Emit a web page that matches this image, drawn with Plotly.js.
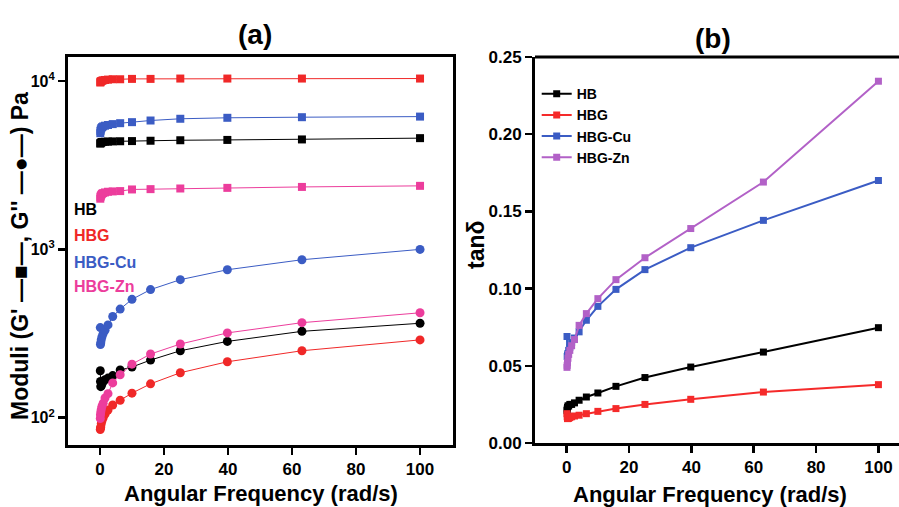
<!DOCTYPE html>
<html><head><meta charset="utf-8">
<script src="https://cdn.plot.ly/plotly-3.0.1.min.js"></script>
<style>html,body{margin:0;padding:0;background:#fff}#chart{width:899px;height:507px}</style>
</head><body><div id="chart"></div>
<script>
// Angular frequency (rad/s)
const freq = [0.1,0.158,0.251,0.398,0.631,1,1.58,2.51,3.98,6.31,10,15.8,25.1,39.8,63.1,100];
const sampleNames = ['HB','HBG','HBG-Cu','HBG-Zn'];

// Storage modulus G' (Pa)
const gStorage_HB    = [4250,4280,4300,4320,4340,4350,4360,4370,4380,4390,4400,4420,4450,4470,4500,4580];
const gStorage_HBG   = [9800,9900,9950,10000,10050,10100,10150,10200,10250,10250,10300,10300,10350,10350,10350,10350];
const gStorage_HBGCu = [4900,5050,5150,5250,5320,5380,5430,5480,5550,5620,5700,5830,5970,6050,6100,6150];
const gStorage_HBGZn = [2000,2050,2080,2110,2140,2160,2180,2200,2210,2220,2270,2280,2300,2320,2350,2385];

// Loss modulus G'' (Pa)
const gLoss_HB    = [190,164,153,155,159,164,168,172,178,192,200,220,250,284,326,364];
const gLoss_HBG   = [85,87,88,92,96,100,105,111,119,127,140,159,185,215,250,290];
const gLoss_HBGCu = [343,272,279,291,303,316,331,356,399,442,505,577,661,757,868,1000];
const gLoss_HBGZn = [99,104,108,112,117,122,131,139,161,180,208,239,274,319,367,420];

// tan delta
const tan_HB    = [0.021,0.022,0.023,0.024,0.024,0.025,0.025,0.026,0.0277,0.0298,0.0324,0.0367,0.0424,0.0492,0.0589,0.0747];
const tan_HBG   = [0.019,0.017,0.0158,0.016,0.016,0.0165,0.017,0.0175,0.018,0.019,0.0205,0.0223,0.025,0.0283,0.033,0.0378];
const tan_HBGCu = [0.069,0.056,0.057,0.058,0.060,0.062,0.065,0.068,0.072,0.0795,0.0885,0.0995,0.1123,0.1265,0.1442,0.170];
const tan_HBGZn = [0.049,0.0503,0.052,0.0549,0.0574,0.060,0.063,0.067,0.0762,0.0838,0.0935,0.1058,0.120,0.1389,0.169,0.2343];

// tick positions / labels
const logMajorTicks = [100,1000,10000];
const logMajorLabels = ['<b>10<sup>2</sup></b>','<b>10<sup>3</sup></b>','<b>10<sup>4</sup></b>'];
const logMinorTicks = [70,80,90,200,300,400,500,600,700,800,900,2000,3000,4000,5000,6000,7000,8000,9000];
const freqMinorTicks = [-10,10,30,50,70,90,110];
const tanMinorTicks = [0.025,0.075,0.125,0.175,0.225];

const leftColors  = ['#000000','#f02828','#3b5cc4','#ec3d9c'];
const rightColors = ['#000000','#f52a2a','#3b5cc4','#b261c7'];

const SANS = '"Liberation Sans", Arial, sans-serif';

const storage = [gStorage_HB, gStorage_HBG, gStorage_HBGCu, gStorage_HBGZn];
const loss = [gLoss_HB, gLoss_HBG, gLoss_HBGCu, gLoss_HBGZn];
const tand = [tan_HB, tan_HBG, tan_HBGCu, tan_HBGZn];

const traces = [];
for (let i = 0; i < 4; i++) {
  traces.push({x: freq, y: storage[i], xaxis:'x', yaxis:'y', mode:'lines+markers', showlegend:false,
    name: sampleNames[i] + " G'", line:{color: leftColors[i], width:1},
    marker:{symbol:'square', size:8, color:leftColors[i]}});
  traces.push({x: freq, y: loss[i], xaxis:'x', yaxis:'y', mode:'lines+markers', showlegend:false,
    name: sampleNames[i] + " G''", line:{color: leftColors[i], width:1},
    marker:{symbol:'circle', size:9, color:leftColors[i]}});
}
for (let i = 0; i < 4; i++) {
  traces.push({x: freq, y: tand[i], xaxis:'x2', yaxis:'y2', mode:'lines+markers', showlegend:true,
    name: sampleNames[i], line:{color: rightColors[i], width:2},
    marker:{symbol:'square', size:7, color:rightColors[i]}});
}

const tickFont = {family: SANS, size: 17, color:'#000', weight:'bold'};
const axBase = {showline:true, linewidth:3, linecolor:'#000', ticks:'outside', ticklen:7, tickwidth:2.5,
  tickcolor:'#000', showgrid:false, zeroline:false, tickfont: tickFont};
const minorAx = {showline:false, ticks:'outside', ticklen:4, tickwidth:2, tickcolor:'#000', showgrid:false,
  zeroline:false, showticklabels:false, tickmode:'array'};

const LX = [0.0756, 0.5039], LY = [0.1223, 0.8876], RX = [0.5951, 1], RY = [0.1262, 0.8876];
const xRangeL = [-10, 110.3], yRangeL = [1.838, 4.143], xRangeR = [-10.17, 106.6], yRangeR = [0, 0.25];

const layout = {
  width: 899, height: 507,
  margin: {l:0, r:0, t:0, b:0},
  paper_bgcolor:'#fff', plot_bgcolor:'#fff',
  xaxis: Object.assign({}, axBase, {domain:LX, anchor:'y', range:xRangeL, mirror:true, tick0:0, dtick:20}),
  yaxis: Object.assign({}, axBase, {domain:LY, anchor:'x', type:'log', range:yRangeL, mirror:true,
    tickmode:'array', tickvals:logMajorTicks, ticktext:logMajorLabels,
    tickfont:{family:SANS, size:16, color:'#000', weight:'bold'}}),
  xaxis2: Object.assign({}, axBase, {domain:RX, anchor:'y2', range:xRangeR, mirror:false, tick0:0, dtick:20}),
  yaxis2: Object.assign({}, axBase, {domain:RY, anchor:'x2', range:yRangeR, mirror:false,
    tick0:0, dtick:0.05, tickformat:'.2f'}),
  xaxis3: Object.assign({}, minorAx, {overlaying:'x', anchor:'y', side:'bottom', range:xRangeL, tickvals:freqMinorTicks}),
  yaxis3: Object.assign({}, minorAx, {overlaying:'y', anchor:'x', side:'left', type:'log', range:yRangeL, tickvals:logMinorTicks}),
  xaxis4: Object.assign({}, minorAx, {overlaying:'x2', anchor:'y2', side:'bottom', range:xRangeR, tickvals:freqMinorTicks}),
  yaxis4: Object.assign({}, minorAx, {overlaying:'y2', anchor:'x2', side:'left', range:yRangeR, tickvals:tanMinorTicks}),
  shapes: [{type:'line', xref:'x2 domain', yref:'y2 domain', x0:0, x1:1, y0:1, y1:1, line:{color:'#000', width:3}}],
  legend: {x: 0.597, y: 0.846, xanchor:'left', yanchor:'top', bgcolor:'rgba(0,0,0,0)', borderwidth:0,
    font:{family: SANS, size:14, color:'#000', weight:'bold'}, itemwidth:30, tracegroupgap:0},
  annotations: [
    {text:'(a)', x:255/899, y:(507-34)/507, xref:'paper', yref:'paper', showarrow:false, xanchor:'center', yanchor:'middle',
      font:{family:SANS, size:28, color:'#000', weight:'bold'}},
    {text:'(b)', x:713/899, y:(507-38)/507, xref:'paper', yref:'paper', showarrow:false, xanchor:'center', yanchor:'middle',
      font:{family:SANS, size:28, color:'#000', weight:'bold'}},
    {text:'Angular Frequency (rad/s)', x:261/899, y:(507-493)/507, xref:'paper', yref:'paper', showarrow:false,
      xanchor:'center', yanchor:'middle', font:{family:SANS, size:22, color:'#000', weight:'bold'}},
    {text:'Angular Frequency (rad/s)', x:710/899, y:(507-494)/507, xref:'paper', yref:'paper', showarrow:false,
      xanchor:'center', yanchor:'middle', font:{family:SANS, size:22, color:'#000', weight:'bold'}},
    {text:"Moduli (G' —■—, G'' —●—) Pa", x:20/899, y:(507-256)/507, xref:'paper', yref:'paper', showarrow:false,
      textangle:-90, xanchor:'center', yanchor:'middle', font:{family:SANS, size:23, color:'#000', weight:'bold'}},
    {text:'tanδ', x:476/899, y:(507-245)/507, xref:'paper', yref:'paper', showarrow:false,
      textangle:-90, xanchor:'center', yanchor:'middle', font:{family:SANS, size:23, color:'#000', weight:'bold'}},
    {text:'HB', x:72/899, y:(507-209)/507, xref:'paper', yref:'paper', showarrow:false, xanchor:'left', yanchor:'middle',
      font:{family:SANS, size:16, color:leftColors[0], weight:'bold'}},
    {text:'HBG', x:72/899, y:(507-235)/507, xref:'paper', yref:'paper', showarrow:false, xanchor:'left', yanchor:'middle',
      font:{family:SANS, size:16, color:leftColors[1], weight:'bold'}},
    {text:'HBG-Cu', x:72/899, y:(507-262)/507, xref:'paper', yref:'paper', showarrow:false, xanchor:'left', yanchor:'middle',
      font:{family:SANS, size:16, color:leftColors[2], weight:'bold'}},
    {text:'HBG-Zn', x:72/899, y:(507-286)/507, xref:'paper', yref:'paper', showarrow:false, xanchor:'left', yanchor:'middle',
      font:{family:SANS, size:16, color:leftColors[3], weight:'bold'}}
  ]
};

Plotly.newPlot('chart', traces, layout, {staticPlot:true, displayModeBar:false});
</script></body></html>
